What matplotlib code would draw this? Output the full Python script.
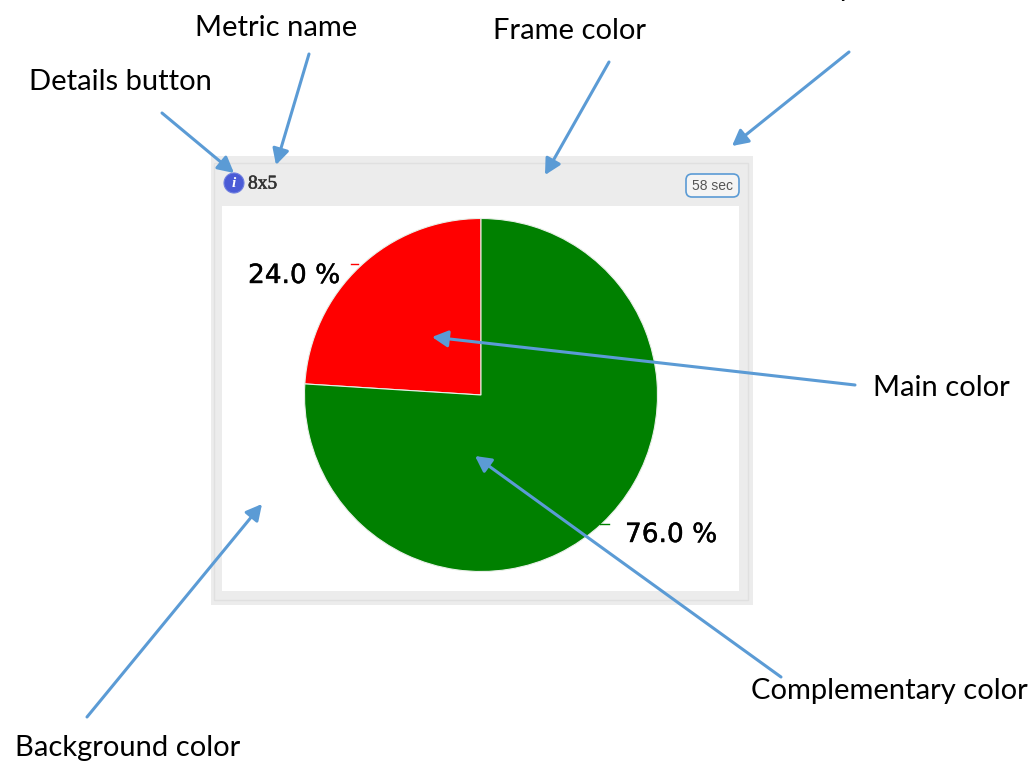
#!/usr/bin/env python3
"""Annotated pie widget: frame, details button, timer and colour callouts."""

import matplotlib
matplotlib.use("Agg")
import matplotlib.pyplot as plt
import matplotlib.patheffects as pe
from matplotlib.patches import Circle, FancyBboxPatch, Rectangle

W, H = 1035, 764
DPI = 100

# chart data
slice_labels = ["24.0 %", "76.0 %"]
slice_values = [24.0, 76.0]
slice_colors = ["#ff0000", "#008000"]
metric_name = "8x5"
timer_text = "58 sec"

# callouts: text, text position, arrow start, arrow tip
callout_texts = ["Metric name", "Frame color", "Details button", "Main color",
                 "Complementary color", "Background color"]
callout_pos = [(195, 28), (493, 31), (29, 82), (873, 388), (751, 691), (15, 748)]
arrow_lines = [((309, 54), (276, 165)), ((609, 62), (545, 175)),
               ((162, 113), (234, 173)), ((849, 52), (732, 146)),
               ((855, 385), (432, 337)), ((781, 677), (475, 456)),
               ((87, 717), (262, 504))]

plt.rcParams["font.family"] = ["Lato", "DejaVu Sans"]

fig = plt.figure(figsize=(W / DPI, H / DPI), dpi=DPI)
ax = fig.add_axes([0, 0, 1, 1])
ax.set_xlim(0, W)
ax.set_ylim(H, 0)
ax.axis("off")

# widget frame
ax.add_patch(Rectangle((211, 156), 542, 449, fc="#ececec", ec="none", zorder=1))
ax.add_patch(Rectangle((214, 163), 534, 437, fc="none", ec="#e0e0e0", lw=1, zorder=2))
ax.add_patch(Rectangle((222, 206), 517, 385, fc="white", ec="none", zorder=2))

# header
ax.add_patch(Circle((234, 183), 10, fc="#4a5bd6", ec="#6f7fe0", lw=0.8, zorder=3))
ax.text(234, 183.5, "i", color="white", fontsize=11, fontweight="bold", style="italic",
        family="Liberation Serif", ha="center", va="center", zorder=4)
ax.text(248, 184, metric_name, color="#333333", fontsize=14,
        family="Liberation Serif", va="center", zorder=4,
        path_effects=[pe.withStroke(linewidth=0.4, foreground="#333333")])
ax.add_patch(FancyBboxPatch((686, 174), 53, 23, boxstyle="round,pad=0,rounding_size=6",
                            fc="#f4f4f4", ec="#5b9bd5", lw=1.2, zorder=3))
ax.text(712.5, 185.5, timer_text, color="#555555", fontsize=10,
        family="Liberation Sans", ha="center", va="center", zorder=4)

# pie, centred at (481, 395) with radius 176 px
cx, cy, r = 481, 395, 176.5
pie_ax = fig.add_axes([(cx - r) / W, 1 - (cy + r) / H, 2 * r / W, 2 * r / H])
pie_ax.pie(slice_values, colors=slice_colors, startangle=90, radius=1,
           wedgeprops={"edgecolor": "#e8f0e8", "linewidth": 0.8})
pie_ax.set_xlim(-1, 1)
pie_ax.set_ylim(-1, 1)
pie_ax.set_zorder(2)
pie_ax.patch.set_visible(False)

# overlay for everything drawn above the pie
top = fig.add_axes([0, 0, 1, 1], sharex=ax, sharey=ax)
top.axis("off")
top.set_zorder(3)

top.plot([351, 358], [264, 264], color="#ff0000", lw=1)
top.plot([600, 609], [524, 524], color="#008000", lw=1)
bolder = [pe.withStroke(linewidth=0.3, foreground="black")]
top.text(248, 276, slice_labels[0], color="black", fontsize=19, family="DejaVu Sans",
         va="center", path_effects=bolder)
top.text(625, 535, slice_labels[1], color="black", fontsize=19, family="DejaVu Sans",
         va="center", path_effects=bolder)

for text, (x, y) in zip(callout_texts, callout_pos):
    top.text(x, y, text, color="black", fontsize=21, va="center")

# label cut off by the top edge of the picture, only its descender shows
top.text(845, -12, "y", color="black", fontsize=21, ha="center", va="center", clip_on=False)

for start, tip in arrow_lines:
    top.annotate("", xy=tip, xytext=start,
                 arrowprops=dict(arrowstyle="-|>,head_length=0.95,head_width=0.5",
                                 color="#5b9bd5", lw=2.2, shrinkA=0, shrinkB=0))

fig.savefig("out.png", dpi=DPI)
